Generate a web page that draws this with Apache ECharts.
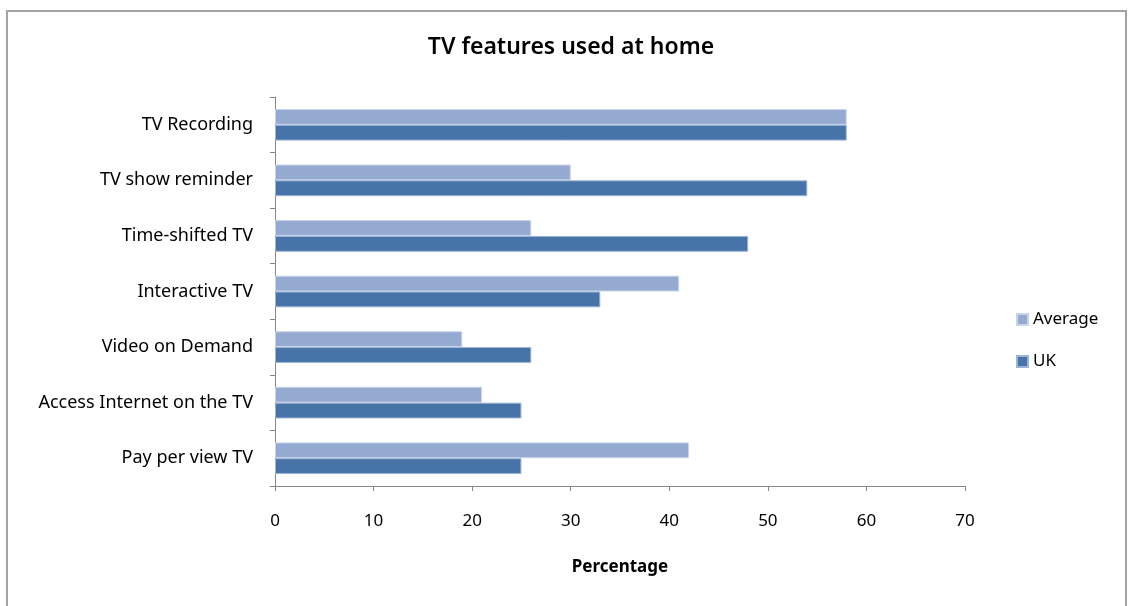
<!DOCTYPE html>
<html>
<head>
<meta charset="utf-8">
<script src="https://cdn.jsdelivr.net/npm/echarts@6/dist/echarts.min.js"></script>
<style>html,body{margin:0;padding:0;background:#fff;}#chart{width:1128px;height:606px;}</style>
</head>
<body>
<div id="chart"></div>
<script>
const categories = ["TV Recording","TV show reminder","Time-shifted TV","Interactive TV","Video on Demand","Access Internet on the TV","Pay per view TV"];
const averageValues = [58,30,26,41,19,21,42];
const ukValues = [58,54,48,33,26,25,25];
const xTicks = {min:0, max:70, interval:10};
const FONT = '"Noto Sans", "Open Sans", sans-serif';

const chart = echarts.init(document.getElementById('chart'), null, {renderer:'canvas'});
chart.setOption({
  animation:false,
  backgroundColor:'#ffffff',
  textStyle:{fontFamily:FONT},
  title:{
    text:'TV features used at home',
    left:566, top:31, textAlign:'center',
    textStyle:{fontFamily:FONT, fontSize:23, fontWeight:600, color:'#000'}
  },
  graphic:[{
    type:'rect', shape:{x:7, y:11, width:1119, height:620},
    style:{fill:'none', stroke:'#a3a3a3', lineWidth:2}, silent:true
  }],
  legend:{
    orient:'vertical', left:1011, top:306, itemGap:25,
    itemWidth:11, itemHeight:11, padding:[5,5,5,5],
    data:[{name:'Average', icon:'rect'},{name:'UK', icon:'rect'}],
    textStyle:{fontFamily:FONT, fontSize:17, color:'#000'}
  },
  grid:{left:275, right:163, top:97, bottom:120, containLabel:false},
  xAxis:{
    type:'value', min:xTicks.min, max:xTicks.max, interval:xTicks.interval,
    name:'Percentage', nameLocation:'middle', nameGap:73,
    nameTextStyle:{fontFamily:FONT, fontSize:17, fontWeight:'bold', color:'#000'},
    axisLine:{show:true, lineStyle:{color:'#868686', width:1}},
    axisTick:{show:true, length:5, lineStyle:{color:'#868686'}},
    axisLabel:{fontFamily:FONT, fontSize:17, color:'#000', margin:27},
    splitLine:{show:false}
  },
  yAxis:{
    type:'category', data:categories, inverse:true,
    axisLine:{show:true, lineStyle:{color:'#868686', width:1}},
    axisTick:{show:true, length:5, lineStyle:{color:'#868686'}},
    axisLabel:{fontFamily:FONT, fontSize:18, color:'#000', margin:22},
    splitLine:{show:false}
  },
  series:[
    {name:'Average', type:'bar', data:averageValues, barGap:'0%', barCategoryGap:'43%',
     itemStyle:{color:'#95aad1', borderColor:'#c9d4ea', borderWidth:1}},
    {name:'UK', type:'bar', data:ukValues, barGap:'0%', barCategoryGap:'43%',
     itemStyle:{color:'#4674a8', borderColor:'#9db3d3', borderWidth:1}}
  ]
});
</script>
</body>
</html>
